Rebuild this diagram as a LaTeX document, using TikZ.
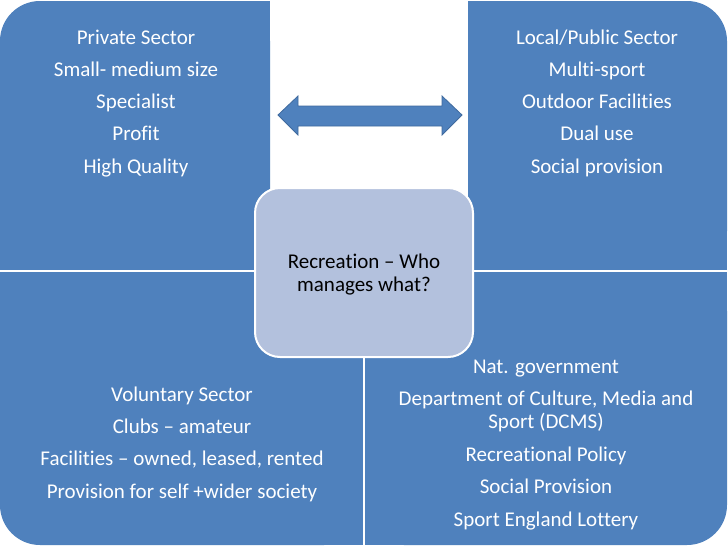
\documentclass[tikz,border=0pt]{standalone}
\usepackage{fontspec}
\setmainfont[Ligatures={NoCommon}]{Carlito}
\definecolor{qblue}{HTML}{4F81BD}
\definecolor{cblue}{HTML}{B3C1DD}
\definecolor{aedge}{HTML}{3F6A9E}
\begin{document}
\begin{tikzpicture}[x=1pt,y=-1pt,
  wtxt/.style={text=white,font=\fontsize{21}{23}\selectfont,inner sep=0pt,anchor=base,yshift=-7pt},
  btxt/.style={text=black,font=\fontsize{21}{23}\selectfont,inner sep=0pt,anchor=base,yshift=-7pt}]
\useasboundingbox (0,0) rectangle (728,546);
\fill[white] (0,0) rectangle (728,546);
% top-left quadrant
\fill[qblue,rounded corners=40pt] (0,1) rectangle (270,271);
\fill[qblue] (135,1) rectangle (270,271);
\fill[qblue] (0,136) rectangle (270,271);
% top-right quadrant
\fill[qblue,rounded corners=40pt] (468,1) rectangle (727,271);
\fill[qblue] (468,1) rectangle (600,271);
\fill[qblue] (468,136) rectangle (727,271);
% bottom-left quadrant
\fill[qblue,rounded corners=40pt] (0,271) rectangle (364,545);
\fill[qblue] (180,271) rectangle (364,545);
\fill[qblue] (0,271) rectangle (364,400);
% bottom-right quadrant
\fill[qblue,rounded corners=40pt] (364,271) rectangle (727,545);
\fill[qblue] (364,271) rectangle (550,545);
\fill[qblue] (364,271) rectangle (727,400);
% separators
\draw[white,line width=2pt] (0,271) -- (728,271);
\draw[white,line width=2pt] (364,271) -- (364,546);
% double arrow
\filldraw[fill=qblue,draw=aedge,line width=0.8pt]
  (278,115) -- (298,96) -- (298,106) -- (442,106) -- (442,96) -- (462,115)
  -- (442,135) -- (442,126) -- (298,126) -- (298,135) -- cycle;
% centre box
\node[draw=white,line width=2pt,fill=cblue,rounded corners=25pt,minimum width=218pt,minimum height=169pt,inner sep=0pt] (centre) at (364,272.5) {};
\node[btxt] (c1) at (364,261) {Recreation – Who};
\node[btxt] (c2) at (364,284) {manages what?};
% top-left text
\node[wtxt] (tl1) at (136,37) {Private Sector};
\node[wtxt] (tl2) at (136,69) {Small- medium size};
\node[wtxt] (tl3) at (136,101) {Specialist};
\node[wtxt] (tl4) at (136,133) {Profit};
\node[wtxt] (tl5) at (136,166) {High Quality};
% top-right text
\node[wtxt] (tr1) at (597,37) {Local/Public Sector};
\node[wtxt] (tr2) at (597,69) {Multi-sport};
\node[wtxt] (tr3) at (597,101) {Outdoor Facilities};
\node[wtxt] (tr4) at (597,133) {Dual use};
\node[wtxt] (tr5) at (597,166) {Social provision};
% bottom-left text
\node[wtxt] (bl1) at (182,394) {Voluntary Sector};
\node[wtxt] (bl2) at (182,426) {Clubs – amateur};
\node[wtxt] (bl3) at (182,458) {Facilities – owned, leased, rented};
\node[wtxt] (bl4) at (182,491) {Provision for self +wider society};
% bottom-right text
\node[wtxt] (br1) at (546,366) {Nat. government};
\node[wtxt] (br2) at (546,398) {Department of Culture, Media and};
\node[wtxt] (br3) at (546,421) {Sport (DCMS)};
\node[wtxt] (br4) at (546,454) {Recreational Policy};
\node[wtxt] (br5) at (546,486) {Social Provision};
\node[wtxt] (br6) at (546,519) {Sport England Lottery};
\end{tikzpicture}
\end{document}
